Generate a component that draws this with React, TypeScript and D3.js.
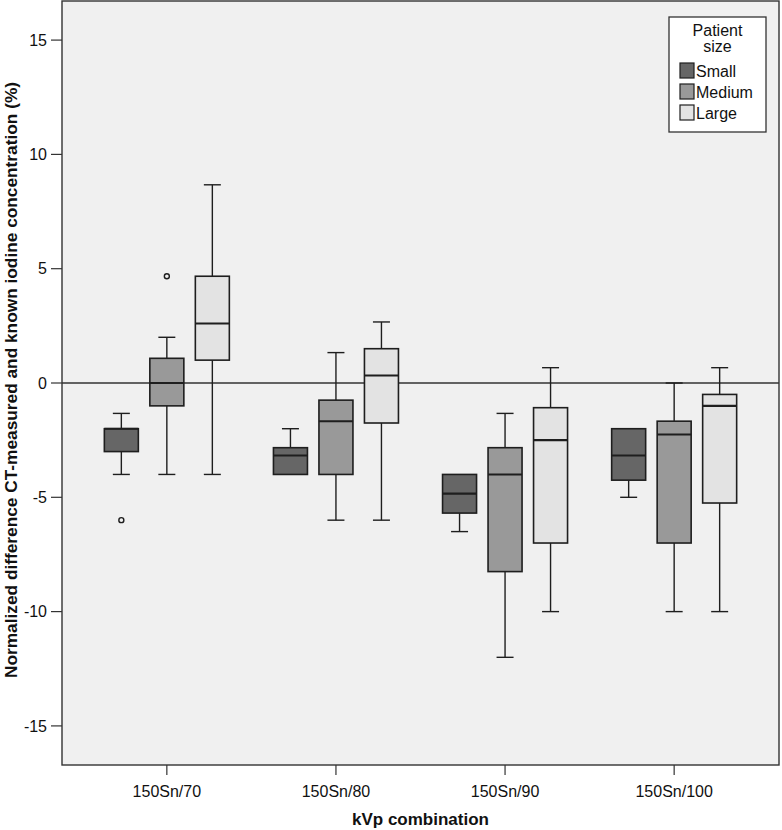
import * as d3 from "d3";

const categories = ["150Sn/70", "150Sn/80", "150Sn/90", "150Sn/100"];
const sizes = ["Small", "Medium", "Large"];
const sizeFills = ["#666666", "#999999", "#e3e3e3"];

// [lower whisker, q1, median, q3, upper whisker] per kVp combination
const smallStats = [
  [-4, -3, -2, -2, -1.33],
  [-4, -4, -3.17, -2.83, -2],
  [-6.5, -5.69, -4.84, -4, -4],
  [-5, -4.25, -3.17, -2, -2],
];
const mediumStats = [
  [-4, -1, 0, 1.08, 2],
  [-6, -4, -1.67, -0.75, 1.33],
  [-12, -8.25, -4, -2.83, -1.33],
  [-10, -7, -2.25, -1.67, 0],
];
const largeStats = [
  [-4, 1, 2.6, 4.67, 8.67],
  [-6, -1.75, 0.33, 1.5, 2.67],
  [-10, -7, -2.5, -1.08, 0.67],
  [-10, -5.25, -1, -0.5, 0.67],
];
const smallOutliers = [[-6], [], [], []];
const mediumOutliers = [[4.67], [], [], []];
const largeOutliers = [[], [], [], []];

const yTicks = [15, 10, 5, 0, -5, -10, -15];

const WIDTH = 782;
const HEIGHT = 830;
const PLOT = { left: 62, right: 779, top: 1, bottom: 765 };
const INK = "#1e1e1e";
const FONT = "'Liberation Sans', Arial, Helvetica, sans-serif";
const BOX_WIDTH = 34;
const CAP_WIDTH = 17;

export default function App() {
  const x = d3.scalePoint<string>().domain(categories).range([PLOT.left, PLOT.right]).padding(0.62);
  const offset = d3.scalePoint<string>().domain(sizes).range([-45.5, 45.5]);
  const y = d3.scaleLinear().domain([-16.71, 16.71]).range([PLOT.bottom, PLOT.top]);

  const series = [
    { size: "Small", stats: smallStats, outliers: smallOutliers, fill: sizeFills[0] },
    { size: "Medium", stats: mediumStats, outliers: mediumOutliers, fill: sizeFills[1] },
    { size: "Large", stats: largeStats, outliers: largeOutliers, fill: sizeFills[2] },
  ];

  const plotMidX = (PLOT.left + PLOT.right) / 2;
  const titleY = 380;

  return (
    <svg
      width={WIDTH}
      height={HEIGHT}
      viewBox={`0 0 ${WIDTH} ${HEIGHT}`}
      style={{ position: "absolute", left: 0, top: 0, background: "#ffffff" }}
      fontFamily={FONT}
    >
      <rect x={PLOT.left} y={PLOT.top} width={PLOT.right - PLOT.left} height={PLOT.bottom - PLOT.top} fill="#f0f0f0" />

      <line x1={PLOT.left} x2={PLOT.right} y1={y(0)} y2={y(0)} stroke="#333333" strokeWidth="1.4" />

      {series.map((s) =>
        categories.map((cat, i) => {
          const [lo, q1, med, q3, hi] = s.stats[i];
          const cx = (x(cat) ?? 0) + (offset(s.size) ?? 0);
          return (
            <g key={`${s.size}-${cat}`} stroke={INK} strokeWidth="1.4">
              {hi > q3 && (
                <>
                  <line x1={cx} x2={cx} y1={y(hi)} y2={y(q3)} />
                  <line x1={cx - CAP_WIDTH / 2} x2={cx + CAP_WIDTH / 2} y1={y(hi)} y2={y(hi)} />
                </>
              )}
              {lo < q1 && (
                <>
                  <line x1={cx} x2={cx} y1={y(q1)} y2={y(lo)} />
                  <line x1={cx - CAP_WIDTH / 2} x2={cx + CAP_WIDTH / 2} y1={y(lo)} y2={y(lo)} />
                </>
              )}
              <rect x={cx - BOX_WIDTH / 2} y={y(q3)} width={BOX_WIDTH} height={y(q1) - y(q3)} fill={s.fill} strokeWidth="1.6" />
              <line x1={cx - BOX_WIDTH / 2} x2={cx + BOX_WIDTH / 2} y1={y(med)} y2={y(med)} strokeWidth="2.1" />
              {s.outliers[i].map((v, k) => (
                <circle key={k} cx={cx} cy={y(v)} r="2.5" fill="none" strokeWidth="1.4" />
              ))}
            </g>
          );
        })
      )}

      <rect
        x={PLOT.left}
        y={PLOT.top}
        width={PLOT.right - PLOT.left}
        height={PLOT.bottom - PLOT.top}
        fill="none"
        stroke="#333333"
        strokeWidth="1.4"
      />

      {yTicks.map((t) => (
        <g key={t}>
          <line x1={51} x2={PLOT.left} y1={y(t)} y2={y(t)} stroke="#333333" strokeWidth="1.2" />
          <text x={47} y={y(t)} dy="0.36em" textAnchor="end" fontSize="16" fill="#111111">
            {t}
          </text>
        </g>
      ))}

      {categories.map((cat) => (
        <g key={cat}>
          <line x1={x(cat)} x2={x(cat)} y1={PLOT.bottom} y2={PLOT.bottom + 10} stroke="#333333" strokeWidth="1.2" />
          <text x={x(cat)} y={797} textAnchor="middle" fontSize="16" fill="#111111">
            {cat}
          </text>
        </g>
      ))}

      <text x={plotMidX} y={825} textAnchor="middle" fontSize="17" fontWeight="700" fill="#111111">
        kVp combination
      </text>
      <text
        x={17}
        y={titleY}
        textAnchor="middle"
        fontSize="16.5"
        fontWeight="700"
        fill="#111111"
        textLength={596}
        lengthAdjust="spacingAndGlyphs"
        transform={`rotate(-90 17 ${titleY})`}
      >
        Normalized difference CT-measured and known iodine concentration (%)
      </text>

      <g>
        <rect x={669} y={17} width={97} height={115} fill="#ffffff" stroke="#333333" strokeWidth="1.3" />
        <text x={717.5} y={36} textAnchor="middle" fontSize="16" fill="#111111">
          Patient
        </text>
        <text x={717.5} y={52} textAnchor="middle" fontSize="16" fill="#111111">
          size
        </text>
        {sizes.map((size, i) => (
          <g key={size}>
            <rect x={680} y={63 + i * 21} width={14} height={15} fill={sizeFills[i]} stroke={INK} strokeWidth="1.2" />
            <text x={696} y={77 + i * 21} fontSize="16" fill="#111111">
              {size}
            </text>
          </g>
        ))}
      </g>
    </svg>
  );
}
